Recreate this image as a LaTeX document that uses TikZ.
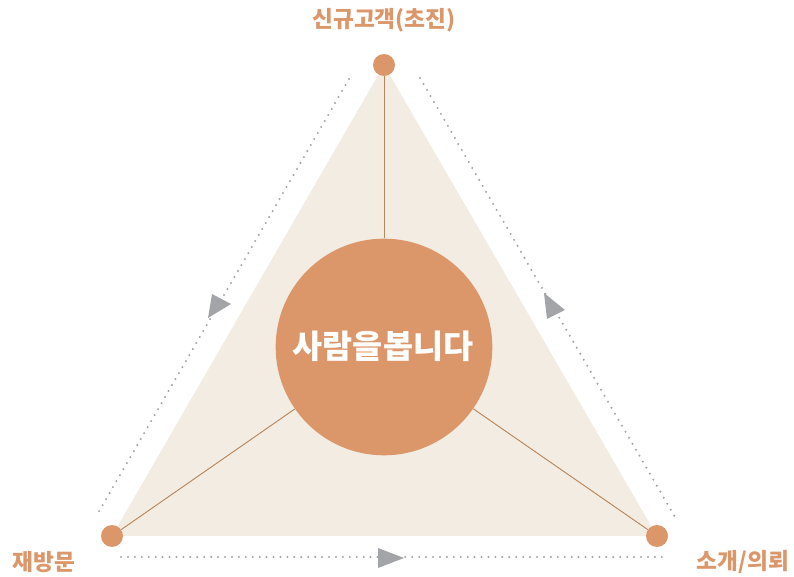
\documentclass[tikz,border=0pt]{standalone}
\usepackage{fontspec}
\newfontfamily\kr{Noto Sans CJK KR}
\definecolor{accent}{HTML}{DB966A}
\definecolor{tri}{HTML}{F2ECE2}
\definecolor{stem}{HTML}{B8865A}
\definecolor{arr}{HTML}{A3A4A8}
\tikzset{
  vert/.style={circle, fill=accent, minimum size=16.5pt, inner sep=0pt},
  lbl/.style={text=accent, font=\kr\bfseries\fontsize{17pt}{20pt}\selectfont},
  spoke/.style={draw=stem, line width=0.7pt},
  dotline/.style={draw=arr, line width=1.7pt, line cap=round, dash pattern=on 0pt off 5.2pt},
  arrowtri/.style={fill=arr}
}
\begin{document}
\begin{tikzpicture}[x=0.75pt, y=-0.75pt]
\useasboundingbox (0,0) rectangle (794,577);
% triangle background
\fill[tri] (384,65) -- (112,536) -- (657,536) -- cycle;
% nodes
\node[vert] (top) at (384,65) {};
\node[vert] (bl) at (112,536) {};
\node[vert] (br) at (657,536) {};
\node[circle, minimum size=162.5pt, inner sep=0pt] (core) at (384,347) {};
% spokes
\draw[spoke] (top) -- (core);
\draw[spoke] (bl) -- (core);
\draw[spoke] (br) -- (core);
\fill[accent] (core.center) circle (81.25pt);
\node[text=white, font=\kr\bfseries\fontsize{24.5pt}{28pt}\selectfont] (slogan) at (383,346) {사람을봅니다};
% labels
\node[lbl] (ltop) at (384,20) {신규고객(초진)};
\node[lbl] (lbl) at (44,562) {재방문};
\node[lbl] (lbr) at (743,562) {소개/의뢰};
% dotted flow lines
\coordinate (l1) at (349,79);
\coordinate (l2) at (98,513);
\coordinate (r1) at (420,78);
\coordinate (r2) at (675,517);
\coordinate (b1) at (121,557);
\coordinate (b2) at (662,557);
\draw[dotline] (l1) -- (l2);
\draw[dotline] (r1) -- (r2);
\draw[dotline] (b1) -- (b2);
% arrowheads
\fill[arrowtri] (212,294) -- (231,304) -- (208,318) -- cycle;
\fill[arrowtri] (544,293) -- (565,310) -- (547,319) -- cycle;
\fill[arrowtri] (378,548) -- (404,558) -- (378,568) -- cycle;
\end{tikzpicture}
\end{document}
